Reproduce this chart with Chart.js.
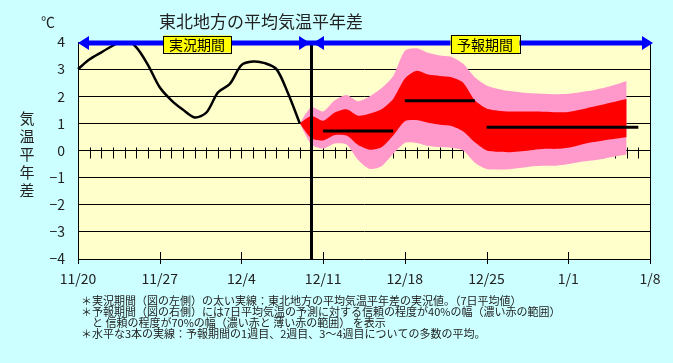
<!DOCTYPE html>
<html>
<head>
<meta charset="utf-8">
<script src="https://cdn.jsdelivr.net/npm/chart.js@4.4.0/dist/chart.umd.min.js"></script>
<style>
  html, body { margin: 0; padding: 0; background: #ccffff; }
  canvas { display: block; }
</style>
</head>
<body>
<canvas id="chart" width="673" height="363"></canvas>
<script>
// Axis setup: one category per day, 11/20 .. 1/8
const weekLabels = ['11/20', '11/27', '12/4', '12/11', '12/18', '12/25', '1/1', '1/8'];
const dayCount = 50;
const yTicks = [-4, -3, -2, -1, 0, 1, 2, 3, 4];

// Observed 7-day mean anomaly, days 0..19
const observed = [3.0, 3.36, 3.62, 3.87, 4.1, 3.8, 3.15, 2.33, 1.85, 1.5, 1.22, 1.4, 2.15, 2.45, 3.15, 3.28, 3.22, 3.0, 2.1, 1.0];

// Forecast bands, days 19..47
const forecastStart = 19;
const pinkUpper = [1.0, 1.6, 1.44, 1.85, 2.05, 1.82, 2.0, 2.3, 2.75, 3.68, 3.77, 3.6, 3.5, 3.45, 3.2, 2.7, 2.4, 2.27, 2.19, 2.14, 2.11, 2.09, 2.07, 2.09, 2.15, 2.21, 2.3, 2.42, 2.56];
const redUpper = [1.0, 1.27, 1.1, 1.4, 1.52, 1.28, 1.36, 1.52, 1.9, 2.65, 2.94, 2.8, 2.75, 2.7, 2.5, 1.85, 1.55, 1.47, 1.44, 1.44, 1.44, 1.43, 1.41, 1.42, 1.5, 1.6, 1.7, 1.8, 1.9];
const redLower = [1.0, 0.45, 0.37, 0.57, 0.55, 0.2, 0.03, 0.12, 0.55, 1.08, 1.12, 1.02, 0.95, 0.9, 0.7, 0.3, 0.0, -0.05, -0.06, -0.03, 0.02, 0.06, 0.06, 0.1, 0.2, 0.3, 0.37, 0.43, 0.5];
const pinkLower = [1.0, 0.22, 0.07, 0.26, 0.22, -0.35, -0.68, -0.58, -0.12, 0.28, 0.28, 0.17, 0.13, 0.1, 0.0, -0.45, -0.68, -0.7, -0.69, -0.64, -0.58, -0.56, -0.56, -0.5, -0.42, -0.37, -0.3, -0.22, -0.15];

// Mean of the forecast: week 1, week 2, weeks 3-4
const meanStart = [21, 28, 35];
const meanEnd = [27, 34, 48];
const meanValue = [0.72, 1.83, 0.86];

const splitDay = 20;

const footnotes = [
  '＊実況期間（図の左側）の太い実線：東北地方の平均気温平年差の実況値。（7日平均値）',
  '＊予報期間（図の右側）には7日平均気温の予測に対する信頼の程度が40%の幅（濃い赤の範囲）',
  '　と 信頼の程度が70%の幅（濃い赤と 薄い赤の範囲） を表示',
  '＊水平な3本の実線：予報期間の1週目、2週目、3〜4週目についての多数の平均。'
];

const font = "'Noto Sans CJK JP', sans-serif";
const labels = Array.from({length: dayCount}, (_, i) => i);

function pad(values, start) {
  const out = new Array(dayCount).fill(null);
  values.forEach((v, i) => { out[start + i] = v; });
  return out;
}
function flat(from, to, v) {
  const out = new Array(dayCount).fill(null);
  for (let d = from; d <= to; d++) out[d] = v;
  return out;
}

const band = { borderWidth: 0, pointRadius: 0, tension: 0.25 };
const datasets = [
  { ...band, data: pad(pinkUpper, forecastStart), fill: '+1', backgroundColor: '#ff99cc', order: 5 },
  { ...band, data: pad(pinkLower, forecastStart), fill: false, order: 5 },
  { ...band, data: pad(redUpper, forecastStart), fill: '+1', backgroundColor: '#ff0000', order: 4 },
  { ...band, data: pad(redLower, forecastStart), fill: false, order: 4 }
];
meanValue.forEach((v, i) => {
  datasets.push({ data: flat(meanStart[i], meanEnd[i], v), borderColor: '#000', borderWidth: 3,
    pointRadius: 0, fill: false, order: 1, borderCapStyle: 'butt' });
});
datasets.push({ data: observed, borderColor: '#000', borderWidth: 2.5, pointRadius: 0,
  fill: false, tension: 0.3, order: 0 });

function arrowHead(ctx, tipX, y, dir) {
  ctx.beginPath();
  ctx.moveTo(tipX, y);
  ctx.lineTo(tipX - dir * 11, y - 7);
  ctx.lineTo(tipX - dir * 11, y + 7);
  ctx.closePath();
  ctx.fill();
}

function labelBox(ctx, text, cx, cy, w, h) {
  ctx.fillStyle = '#ffff00';
  ctx.fillRect(cx - w / 2, cy - h / 2, w, h);
  ctx.strokeStyle = '#000';
  ctx.lineWidth = 1;
  ctx.strokeRect(Math.round(cx - w / 2) + 0.5, Math.round(cy - h / 2) + 0.5, w, h);
  ctx.fillStyle = '#000';
  ctx.font = '14px ' + font;
  ctx.textAlign = 'center';
  ctx.textBaseline = 'middle';
  ctx.fillText(text, cx, cy + 1);
}

const decor = {
  id: 'decor',
  beforeDraw(chart) {
    const { ctx, chartArea: a } = chart;
    ctx.save();
    ctx.fillStyle = '#ccffff';
    ctx.fillRect(0, 0, chart.width, chart.height);
    ctx.fillStyle = '#ffffcc';
    ctx.fillRect(a.left, a.top, a.right - a.left, a.bottom - a.top);
    ctx.restore();
  },
  beforeDatasetsDraw(chart) {
    const { ctx, chartArea: a, scales: { x, y } } = chart;
    const y0 = Math.round(y.getPixelForValue(0)) + 0.5;
    ctx.save();
    ctx.strokeStyle = '#000';
    ctx.lineWidth = 1;
    ctx.beginPath();
    for (let d = 1; d < dayCount - 1; d++) {
      const px = Math.round(x.getPixelForValue(d)) + 0.5;
      ctx.moveTo(px, y0 - 4);
      ctx.lineTo(px, y0 + 7);
    }
    for (let d = 0; d < dayCount; d += 7) {
      const px = Math.round(x.getPixelForValue(d)) + 0.5;
      ctx.moveTo(px, a.bottom - 7);
      ctx.lineTo(px, a.bottom + 5);
    }
    const rx = Math.round(a.right) + 0.5;
    ctx.moveTo(rx, a.top);
    ctx.lineTo(rx, a.bottom + 5);
    ctx.moveTo(a.left + 0.5, a.bottom);
    ctx.lineTo(a.left + 0.5, a.bottom + 5);
    ctx.stroke();
    ctx.restore();
  },
  afterDatasetsDraw(chart) {
    const { ctx, chartArea: a, scales: { x } } = chart;
    const sx = Math.round(x.getPixelForValue(splitDay));
    ctx.save();
    // split line
    ctx.fillStyle = '#000';
    ctx.fillRect(sx - 1, a.top, 3, a.bottom - a.top);
    // period arrows
    const ay = a.top + 1;
    ctx.strokeStyle = '#0000ff';
    ctx.fillStyle = '#0000ff';
    ctx.lineWidth = 5;
    ctx.beginPath();
    ctx.moveTo(a.left + 6, ay);
    ctx.lineTo(a.right - 3, ay);
    ctx.stroke();
    arrowHead(ctx, a.left, ay, -1);
    arrowHead(ctx, sx - 1, ay, 1);
    arrowHead(ctx, sx + 2, ay, -1);
    arrowHead(ctx, a.right + 3, ay, 1);
    labelBox(ctx, '実況期間', 197, 44, 68, 17);
    labelBox(ctx, '予報期間', 485, 44, 69, 18);
    ctx.restore();
  },
  afterDraw(chart) {
    const { ctx } = chart;
    ctx.save();
    ctx.fillStyle = '#222';
    ctx.textBaseline = 'middle';
    ctx.textAlign = 'center';
    ctx.font = '17px ' + font;
    ctx.fillText('東北地方の平均気温平年差', 261, 22);
    ctx.font = '14px ' + font;
    ctx.fillText('℃', 48, 22);
    ctx.font = '15px ' + font;
    ['気', '温', '平', '年', '差'].forEach((c, i) => ctx.fillText(c, 27, 118 + i * 18));
    ctx.textAlign = 'left';
    ctx.font = '11px ' + font;
    const ys = [301, 312, 323, 334];
    footnotes.forEach((t, i) => ctx.fillText(t, 81, ys[i]));
    ctx.restore();
  }
};

new Chart(document.getElementById('chart'), {
  type: 'line',
  data: { labels: labels, datasets: datasets },
  plugins: [decor],
  options: {
    responsive: false,
    animation: false,
    devicePixelRatio: 1,
    layout: { padding: { top: 42, right: 23, left: 0, bottom: 0 } },
    plugins: { legend: { display: false }, tooltip: { enabled: false } },
    scales: {
      x: {
        type: 'category',
        offset: false,
        grid: { display: false, drawTicks: false },
        border: { display: false },
        ticks: {
          autoSkip: false, maxRotation: 0, padding: 11,
          color: '#222', font: { family: font, size: 14 },
          callback: (v, i) => (i % 7 === 0 ? weekLabels[i / 7] : '')
        },
        afterFit: s => { s.height = 104; }
      },
      y: {
        min: -4, max: 4,
        grid: { color: '#000', lineWidth: 1, drawTicks: false },
        border: { display: true, color: '#000', width: 1 },
        ticks: {
          stepSize: 1, padding: 13, color: '#222', font: { family: font, size: 14 },
          callback: v => (yTicks.includes(v) ? (v < 0 ? '−' + Math.abs(v) : String(v)) : '')
        },
        afterFit: s => { s.width = 78; }
      }
    }
  }
});
</script>
</body>
</html>
